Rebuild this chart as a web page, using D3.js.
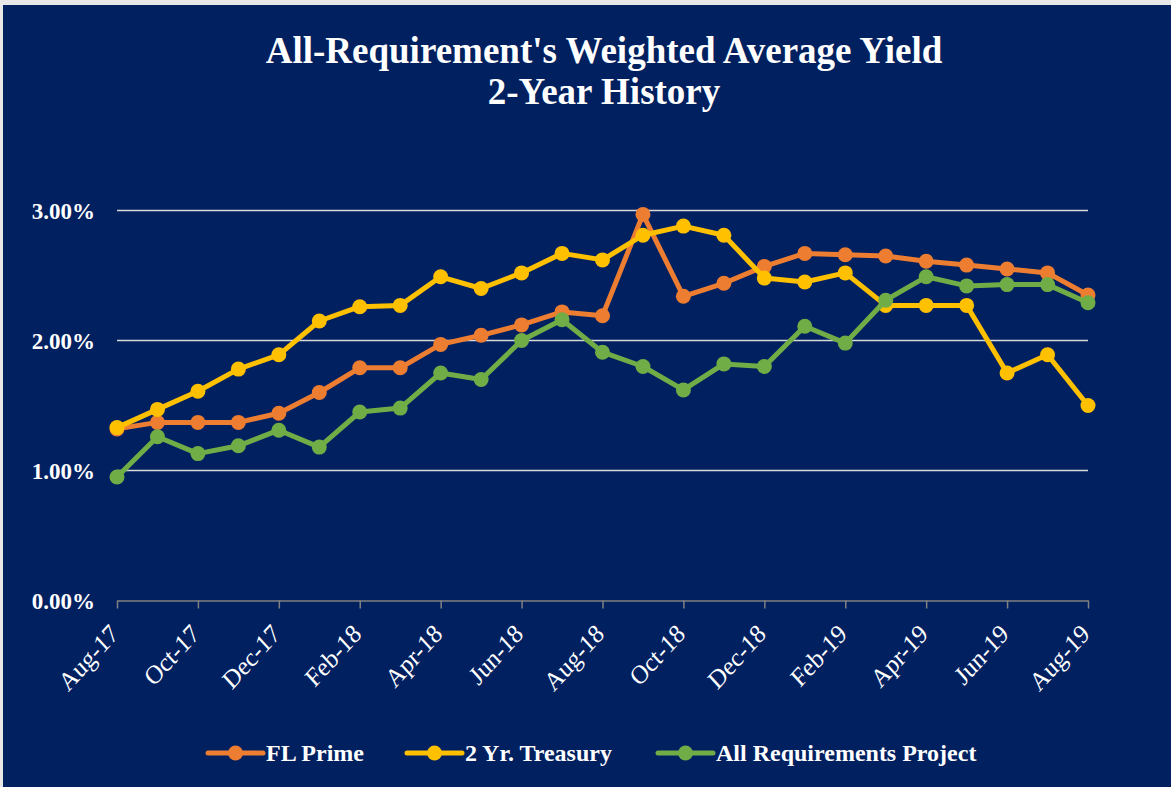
<!DOCTYPE html>
<html>
<head>
<meta charset="utf-8">
<script src="https://d3js.org/d3.v7.min.js"></script>
<style>
  body { margin: 0; padding: 0; background: #e8e8e8; }
  svg { display: block; }
</style>
</head>
<body>
<div id="chart"></div>
<script>
// months Aug-17 .. Aug-19
var months = ["Aug-17","Sep-17","Oct-17","Nov-17","Dec-17","Jan-18","Feb-18","Mar-18","Apr-18","May-18","Jun-18","Jul-18",
  "Aug-18","Sep-18","Oct-18","Nov-18","Dec-18","Jan-19","Feb-19","Mar-19","Apr-19","May-19","Jun-19","Jul-19","Aug-19"];

var flPrime = [1.32,1.37,1.37,1.37,1.44,1.60,1.79,1.79,1.97,2.04,2.12,2.22,
  2.19,2.97,2.34,2.44,2.57,2.67,2.66,2.65,2.61,2.58,2.55,2.52,2.35];

var treasury2yr = [1.33,1.47,1.61,1.78,1.89,2.15,2.26,2.27,2.49,2.40,2.52,2.67,
  2.62,2.81,2.88,2.81,2.48,2.45,2.52,2.27,2.27,2.27,1.75,1.89,1.50];

var allReq = [0.95,1.26,1.13,1.19,1.31,1.18,1.45,1.48,1.75,1.70,2.00,2.16,
  1.91,1.80,1.62,1.82,1.80,2.11,1.98,2.31,2.49,2.42,2.43,2.43,2.29];

var yTicks = [0, 1, 2, 3];

var seriesNames = ["FL Prime", "2 Yr. Treasury", "All Requirements Project"];
var seriesColors = ["#ED7D31", "#FFC000", "#70AD47"];

var W = 1171, H = 787;
var serif = "'Liberation Serif', 'Times New Roman', serif";

var svg = d3.select("#chart")
  .append("svg")
  .attr("width", W)
  .attr("height", H);

// navy panel
svg.append("rect")
  .attr("x", 3)
  .attr("y", 5)
  .attr("width", W - 3)
  .attr("height", H - 5)
  .attr("fill", "#002060");

// title
var title = svg.append("text")
  .attr("text-anchor", "middle")
  .attr("fill", "white")
  .style("font-family", serif)
  .style("font-weight", "bold")
  .style("font-size", "37px");
title.append("tspan").attr("x", 604).attr("y", 63).text("All-Requirement's Weighted Average Yield");
title.append("tspan").attr("x", 604).attr("y", 104).text("2-Year History");

var x = d3.scalePoint()
  .domain(months)
  .range([117, 1088]);

var y = d3.scaleLinear()
  .domain([0, 3])
  .range([600.5, 210.5]);

// gridlines
svg.append("g")
  .selectAll("line")
  .data(yTicks.filter(function(d){ return d > 0; }))
  .enter()
  .append("line")
  .attr("x1", 117)
  .attr("x2", 1088)
  .attr("y1", function(d){ return y(d); })
  .attr("y2", function(d){ return y(d); })
  .attr("stroke", "#d9d9d9")
  .attr("stroke-width", 1.5);

// y labels
svg.append("g")
  .selectAll("text")
  .data(yTicks)
  .enter()
  .append("text")
  .attr("x", 95)
  .attr("y", function(d){ return y(d) + 8; })
  .attr("text-anchor", "end")
  .attr("fill", "white")
  .style("font-family", serif)
  .style("font-weight", "bold")
  .style("font-size", "23px")
  .text(function(d){ return d3.format(".2f")(d) + "%"; });

// x axis
var labelMonths = months.filter(function(d, i){ return i % 2 === 0; });
var xAxis = d3.axisBottom(x)
  .tickValues(labelMonths)
  .tickSize(8)
  .tickSizeOuter(0)
  .tickFormat("");

var gx = svg.append("g")
  .attr("transform", "translate(0," + y(0) + ")")
  .call(xAxis);
gx.select(".domain").attr("stroke", "#808080").attr("stroke-width", 1.5);
gx.selectAll(".tick line").attr("stroke", "#808080").attr("stroke-width", 1.5);

svg.append("g")
  .selectAll("text")
  .data(labelMonths)
  .enter()
  .append("text")
  .attr("transform", function(d){ return "translate(" + (x(d) + 3) + "," + (y(0) + 35) + ") scale(1,1.1) rotate(-45)"; })
  .attr("text-anchor", "end")
  .attr("fill", "white")
  .style("font-family", serif)
  .style("font-size", "24px")
  .text(function(d){ return d; });

// series
var allSeries = [flPrime, treasury2yr, allReq];

var line = d3.line()
  .x(function(d, i){ return x(months[i]); })
  .y(function(d){ return y(d); });

allSeries.forEach(function(vals, k) {
  var g = svg.append("g");
  g.append("path")
    .datum(vals)
    .attr("d", line)
    .attr("fill", "none")
    .attr("stroke", seriesColors[k])
    .attr("stroke-width", 5)
    .attr("stroke-linejoin", "round");
  g.selectAll("circle")
    .data(vals)
    .enter()
    .append("circle")
    .attr("cx", function(d, i){ return x(months[i]); })
    .attr("cy", function(d){ return y(d); })
    .attr("r", 7.5)
    .attr("fill", seriesColors[k]);
});

// legend
var legendX = [208, 407, 658];
var legend = svg.append("g")
  .selectAll("g")
  .data(seriesNames)
  .enter()
  .append("g")
  .attr("transform", function(d, i){ return "translate(" + legendX[i] + ",753)"; });

legend.append("line")
  .attr("x1", 0).attr("x2", 55)
  .attr("y1", 0).attr("y2", 0)
  .attr("stroke", function(d, i){ return seriesColors[i]; })
  .attr("stroke-width", 5)
  .attr("stroke-linecap", "round");
legend.append("circle")
  .attr("cx", 27.5).attr("cy", 0).attr("r", 7.5)
  .attr("fill", function(d, i){ return seriesColors[i]; });
legend.append("text")
  .attr("x", 58)
  .attr("y", 8)
  .attr("fill", "white")
  .style("font-family", serif)
  .style("font-weight", "bold")
  .style("font-size", "24px")
  .text(function(d){ return d; });
</script>
</body>
</html>
